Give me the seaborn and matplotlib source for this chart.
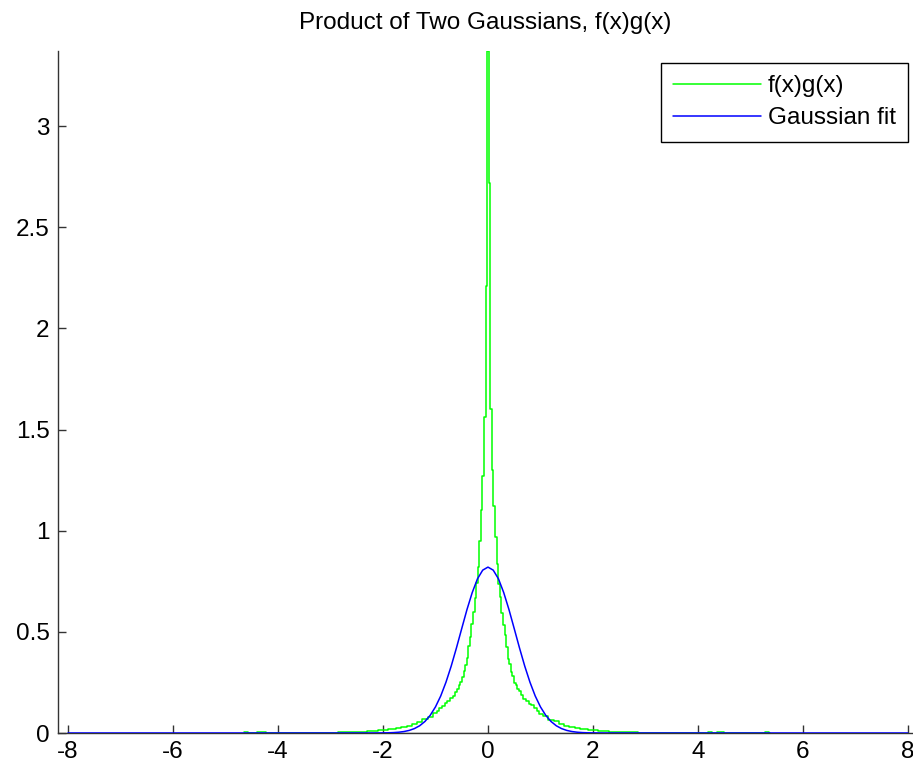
import matplotlib
matplotlib.use("Agg")
import matplotlib.pyplot as plt
import pandas as pd
import seaborn as sns

# Normalised histogram of the product f(x)g(x): bin centres and heights
prod_x = [-4.64, -4.50, -4.31, -4.15, -3.8, -3.4, -3.0, -2.7, -2.4, -2.2, -2.0,
          -1.8, -1.7, -1.6, -1.5, -1.4, -1.3, -1.2, -1.1, -1.0, -0.95, -0.90,
          -0.85, -0.80, -0.75, -0.70, -0.65, -0.60, -0.57, -0.54, -0.51, -0.48,
          -0.45, -0.42, -0.39, -0.36, -0.33, -0.30, -0.27, -0.24, -0.21, -0.18,
          -0.15, -0.12, -0.09, -0.06, -0.03, 0.00, 0.03, 0.06, 0.09, 0.12, 0.15,
          0.18, 0.21, 0.24, 0.27, 0.30, 0.33, 0.36, 0.39, 0.42, 0.45, 0.48, 0.51,
          0.54, 0.57, 0.60, 0.65, 0.70, 0.75, 0.80, 0.85, 0.90, 0.95, 1.0, 1.1,
          1.2, 1.3, 1.4, 1.5, 1.6, 1.7, 1.8, 2.0, 2.2, 2.4, 2.7, 3.0, 3.4, 3.8,
          4.15, 4.23, 4.32, 4.40, 4.6, 5.2, 5.34, 5.38]
prod_y = [0.003, 0.0, 0.003, 0.001, 0.001, 0.002, 0.002, 0.003, 0.005, 0.008, 0.013,
          0.020, 0.024, 0.029, 0.036, 0.046, 0.055, 0.067, 0.081, 0.098, 0.108, 0.124,
          0.133, 0.146, 0.157, 0.171, 0.184, 0.203, 0.219, 0.236, 0.252, 0.279,
          0.307, 0.338, 0.372, 0.428, 0.476, 0.541, 0.598, 0.668, 0.741, 0.822,
          0.951, 1.10, 1.27, 1.56, 2.21, 3.37, 2.72, 1.60, 1.30, 1.12, 0.97,
          0.835, 0.735, 0.672, 0.593, 0.536, 0.482, 0.425, 0.368, 0.341, 0.303, 0.282, 0.249,
          0.238, 0.216, 0.206, 0.186, 0.168, 0.159, 0.143, 0.136, 0.122, 0.111, 0.096, 0.083,
          0.066, 0.057, 0.044, 0.037, 0.030, 0.025, 0.020, 0.013, 0.008, 0.005, 0.003, 0.002, 0.002, 0.001,
          0.001, 0.003, 0.0, 0.003, 0.0, 0.0, 0.003, 0.0]

# Gaussian fitted to the product histogram
fit_x = [-8.0, -2.2, -2.0, -1.9, -1.8, -1.7, -1.6, -1.5, -1.4, -1.3, -1.2, -1.1,
         -1.0, -0.9, -0.8, -0.7, -0.6, -0.5, -0.4, -0.3, -0.2, -0.1, 0.0,
         0.1, 0.2, 0.3, 0.4, 0.5, 0.6, 0.7, 0.8, 0.9, 1.0, 1.1, 1.2, 1.3,
         1.4, 1.5, 1.6, 1.7, 1.8, 1.9, 2.0, 2.2, 8.0]
fit_y = [0.0, 0.0001, 0.0005, 0.0010, 0.0020, 0.0039, 0.0072, 0.0128, 0.0219, 0.036,
         0.0572, 0.0875, 0.129, 0.183, 0.251, 0.331, 0.421, 0.516, 0.610, 0.694,
         0.762, 0.805, 0.820, 0.805, 0.762, 0.694, 0.610, 0.516, 0.421, 0.331,
         0.251, 0.183, 0.129, 0.0875, 0.0572, 0.036, 0.0219, 0.0128, 0.0072,
         0.0039, 0.0020, 0.0010, 0.0005, 0.0001, 0.0]

# Zero line under the sampled support
base_x = [-4.15, 4.15]
base_y = [-0.004, -0.004]

x_ticks = [-8, -6, -4, -2, 0, 2, 4, 6, 8]
y_ticks = [0, 0.5, 1, 1.5, 2, 2.5, 3]
y_tick_labels = ["0", "0.5", "1", "1.5", "2", "2.5", "3"]

sns.set_style("ticks")
plt.rcParams["font.family"] = ["Liberation Sans", "DejaVu Sans"]
plt.rcParams["text.color"] = "black"

fig = plt.figure(figsize=(9.13, 7.67), dpi=100)
ax = fig.add_axes([58 / 913, 34 / 767, 855 / 913, 682 / 767])

prod_df = pd.DataFrame({"x": prod_x, "y": prod_y})
fit_df = pd.DataFrame({"x": fit_x, "y": fit_y})
base_df = pd.DataFrame({"x": base_x, "y": base_y})

sns.lineplot(data=base_df, x="x", y="y", ax=ax, color="black", lw=1.6,
             sort=False, estimator=None, zorder=1)
sns.lineplot(data=prod_df, x="x", y="y", ax=ax, color="#00ff00", lw=1.1,
             sort=False, estimator=None, drawstyle="steps-mid",
             label="f(x)g(x)", zorder=2)
sns.lineplot(data=fit_df, x="x", y="y", ax=ax, color="#0000ff", lw=1.1,
             sort=False, estimator=None, label="Gaussian fit", zorder=3)

ax.set_xlim(-8.19, 8.096)
ax.set_ylim(0, 3.371)
ax.set_xticks(x_ticks)
ax.set_xticklabels([str(t) for t in x_ticks])
ax.set_yticks(y_ticks)
ax.set_yticklabels(y_tick_labels)
ax.set_xlabel("")
ax.set_ylabel("")

for side in ("top", "right"):
    ax.spines[side].set_visible(False)
for side in ("left", "bottom"):
    ax.spines[side].set_color("#333333")
    ax.spines[side].set_linewidth(1.0)

ax.tick_params(direction="in", length=6, width=1.0, color="#333333",
               labelsize=17.5, labelcolor="black", pad=6)

ax.set_title("Product of Two Gaussians, f(x)g(x)", fontsize=17.5, pad=16,
             color="black")

leg = ax.legend(loc="upper right", bbox_to_anchor=(908 / 913, 1 - 63 / 767),
                bbox_transform=fig.transFigure, fontsize=17.5, frameon=True,
                fancybox=False, edgecolor="black", framealpha=1,
                handlelength=3.6, handletextpad=0.3, labelspacing=0.42,
                borderpad=0.5, borderaxespad=0)
leg.get_frame().set_linewidth(1.0)
for txt in leg.get_texts():
    txt.set_color("black")

fig.savefig("out.png", dpi=100)
